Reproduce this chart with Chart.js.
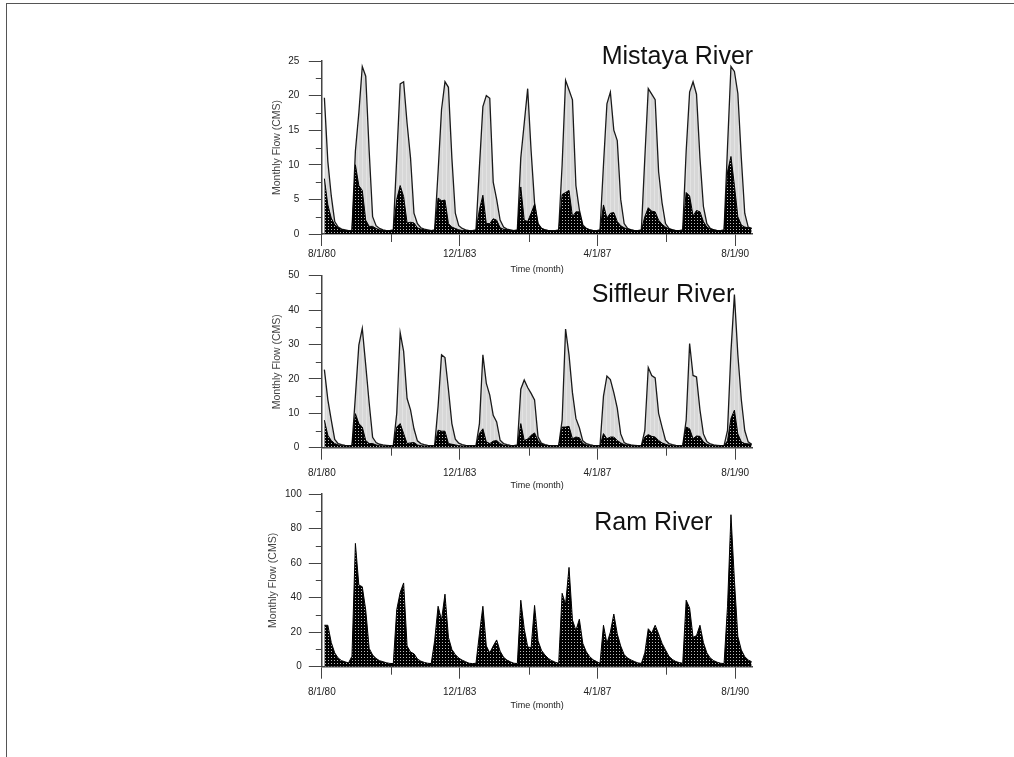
<!DOCTYPE html>
<html>
<head>
<meta charset="utf-8">
<script src="https://cdn.jsdelivr.net/npm/chart.js@4.4.1/dist/chart.umd.min.js"></script>
<style>
  html, body { margin: 0; padding: 0; background: #fff; }
  body { width: 1014px; height: 757px; position: relative; overflow: hidden; }
  #frame { position: absolute; left: 6px; top: 3px; width: 1100px; height: 800px;
           border-top: 1px solid #555; border-left: 1px solid #555; }
  canvas { position: absolute; left: 0; }
</style>
</head>
<body>
<div id="frame"></div>
<canvas id="c1" width="1014" height="282" style="top:0px"></canvas>
<canvas id="c2" width="1014" height="250" style="top:250px"></canvas>
<canvas id="c3" width="1014" height="250" style="top:470px"></canvas>
<script>
// ---------- categories: months, index 0 = August 1980 ----------
const months = [];
for (let i = 0; i < 125; i++) {
  const m = (7 + i) % 12, y = 1980 + Math.floor((7 + i) / 12);
  months.push((m + 1) + '/' + y);
}
const MONTH_POS = 0.75;              // position of a monthly value inside its month

// ---------- x tick labels ----------
const xTickValues = [0, 40, 80, 120];
const xTickLabels = ['8/1/80', '12/1/83', '4/1/87', '8/1/90'];
const xMinorTicks = [20, 60, 100];

// ---------- y ticks ----------
const mistayaYTicks = [0, 5, 10, 15, 20, 25];
const mistayaYMinor = [2.5, 7.5, 12.5, 17.5, 22.5];
const siffleurYTicks = [0, 10, 20, 30, 40, 50];
const siffleurYMinor = [5, 15, 25, 35, 45];
const ramYTicks = [0, 20, 40, 60, 80, 100];
const ramYMinor = [10, 30, 50, 70, 90];

// ---------- series (monthly flow, CMS) ----------
const mistayaTotal = [
  19.7, 10.5, 5.5, 1.8, 1.0, 0.7, 0.6, 0.5, 0.5,
  12, 17.5, 24.2, 22.8, 12, 2.5, 1.2, 0.8, 0.6, 0.5, 0.5, 0.6,
  11, 21.7, 22.0, 16, 11, 3, 1.5, 0.9, 0.7, 0.6, 0.5, 0.6,
  9, 18, 22, 21.2, 11, 3, 1.2, 0.8, 0.6, 0.5, 0.5, 0.6,
  9.7, 18.4, 20, 19.6, 7.5, 5, 2, 1, 0.7, 0.6, 0.5, 0.6,
  11, 16, 21, 12, 4.5, 1.5, 0.8, 0.6, 0.5, 0.5, 0.5, 0.6,
  10, 22.2, 20.8, 19.4, 7, 3.5, 1.3, 0.8, 0.6, 0.5, 0.5, 0.6,
  10, 18.8, 20.5, 15, 13.5, 5, 1.5, 0.8, 0.6, 0.5, 0.5, 0.6,
  11, 21, 20.2, 19.4, 9, 4.5, 1.5, 0.8, 0.6, 0.5, 0.5, 0.6,
  12, 20.5, 22, 20.2, 11, 4, 1.5, 0.8, 0.6, 0.5, 0.5, 0.6,
  12.6, 24.2, 23.5, 20.3, 11, 3, 1, 0.8
];
const mistayaBase = [
  8.0, 4.2, 2.3, 1.3, 0.9, 0.6, 0.5, 0.45, 0.45,
  10, 7, 6.3, 2, 1.1, 1.1, 0.8, 0.6, 0.5, 0.45, 0.45, 0.5,
  5, 7, 5.4, 1.6, 1.7, 1.6, 0.9, 0.7, 0.6, 0.5, 0.45, 0.5,
  5.2, 4.8, 4.9, 1.5, 1.0, 0.8, 0.6, 0.5, 0.5, 0.45, 0.45, 0.5,
  3.5, 5.6, 1.5, 1.5, 2.2, 2.0, 0.9, 0.7, 0.6, 0.5, 0.45, 0.5,
  6.8, 2.0, 1.8, 3.0, 4.3, 1.5, 0.8, 0.6, 0.5, 0.45, 0.45, 0.5,
  5.7, 6.0, 6.3, 2.5, 3.2, 3.2, 1.2, 0.8, 0.6, 0.5, 0.45, 0.5,
  4.2, 2.3, 3.0, 3.1, 1.8, 1.2, 0.9, 0.7, 0.6, 0.5, 0.45, 0.5,
  2.5, 3.8, 3.3, 3.2, 2.0, 1.4, 1.0, 0.7, 0.6, 0.5, 0.45, 0.5,
  6.0, 5.5, 2.6, 3.4, 3.2, 1.8, 1.0, 0.7, 0.6, 0.5, 0.45, 0.5,
  9, 11.2, 7, 2.5, 1.3, 1.0, 0.9, 0.8
];
const siffleurTotal = [
  22.7, 14, 8, 2.4, 1.2, 0.9, 0.7, 0.6, 0.6,
  15, 29.8, 34.7, 24, 13, 3, 1.5, 1.0, 0.8, 0.7, 0.6, 0.6,
  10, 33.4, 28, 14.3, 11, 5.5, 2.0, 1.2, 0.9, 0.7, 0.6, 0.6,
  12, 27, 26.2, 17, 7, 2.5, 1.3, 0.9, 0.7, 0.6, 0.6, 0.6,
  7, 27, 18.7, 15.3, 9.4, 7.5, 2.2, 1.2, 0.9, 0.7, 0.6, 0.8,
  17, 19.7, 17.5, 15.8, 13.9, 3.2, 1.3, 0.9, 0.7, 0.6, 0.6, 0.6,
  8, 34.5, 27, 16, 8.5, 5.8, 2, 1.2, 0.9, 0.7, 0.6, 0.6,
  15, 20.8, 19.8, 16, 11.5, 4, 1.5, 1.0, 0.8, 0.7, 0.6, 0.6,
  5, 23.3, 21, 20.3, 10, 6, 2.2, 1.2, 0.9, 0.7, 0.6, 0.6,
  8, 30.3, 21, 20.6, 11, 4, 1.8, 1.1, 0.8, 0.7, 0.6, 0.6,
  5, 28, 44.5, 27, 14, 5, 1.7, 1.0
];
const siffleurBase = [
  8.0, 3.6, 2.1, 1.2, 0.8, 0.6, 0.5, 0.5, 0.5,
  9.9, 7, 6, 2.1, 1.2, 1.2, 0.8, 0.6, 0.5, 0.5, 0.5, 0.5,
  6, 7, 4.1, 1.2, 1.4, 1.5, 0.8, 0.6, 0.5, 0.5, 0.5, 0.5,
  5.1, 4.8, 4.8, 1.2, 1.0, 0.8, 0.6, 0.5, 0.5, 0.5, 0.5, 0.5,
  4.1, 5.5, 1.7, 1.2, 1.9, 2.1, 1.2, 0.7, 0.6, 0.5, 0.5, 0.6,
  7, 2.1, 2.5, 3.6, 4.3, 2.1, 1.0, 0.7, 0.6, 0.5, 0.5, 0.5,
  6, 6, 6.2, 2.6, 3.1, 2.9, 1.2, 0.8, 0.6, 0.5, 0.5, 0.5,
  4.1, 2.6, 3.1, 3.1, 2.1, 1.4, 0.9, 0.7, 0.6, 0.5, 0.5, 0.5,
  3.1, 3.8, 3.3, 3.1, 2.1, 1.4, 1.0, 0.7, 0.6, 0.5, 0.5, 0.5,
  6.0, 5.5, 2.6, 3.4, 3.3, 1.7, 1.0, 0.7, 0.6, 0.5, 0.5, 0.5,
  2, 8.5, 10.9, 4, 1.7, 1.2, 1.1, 1.0
];
const ramTotal = [
  24, 24, 14, 8, 5, 3.5, 2.8, 2.2, 6,
  71.4, 47.3, 46.3, 32.8, 10.6, 6.8, 4.8, 3.5, 2.9, 2.3, 1.9, 1.8,
  33, 43, 48.5, 12, 8.5, 7.5, 4.5, 3.2, 2.5, 2.0, 1.8, 15,
  35, 27, 42, 17, 10, 7, 5, 3.8, 2.9, 2.0, 1.8, 2.0,
  19, 35, 12, 8, 12, 15.5, 9, 5.5, 3.8, 2.8, 2.0, 1.8,
  38.5, 22, 11.5, 11, 35.5, 15, 9.5, 6.8, 4.8, 3.5, 2.6, 2.0,
  42.5, 36, 57.5, 27, 21, 27.5, 13.5, 8.7, 5.8, 4, 3, 2,
  24, 13.5, 20, 30.5, 19, 12, 7, 5, 3.9, 3, 2.2, 1.9,
  8, 22, 19.5, 24, 19, 13.5, 9.7, 6, 4.2, 3, 2.4, 2.0,
  38.5, 34, 17, 18, 24, 14, 8, 5, 3.5, 2.6, 2.0, 1.8,
  35, 88, 50, 17.5, 9.7, 5.8, 3.9, 2.9
];

// ---------- fills ----------
function makePattern(w, h, bg, dots) {
  const c = document.createElement('canvas');
  c.width = w; c.height = h;
  const g = c.getContext('2d');
  g.fillStyle = bg; g.fillRect(0, 0, w, h);
  dots.forEach(d => { g.fillStyle = d[2]; g.fillRect(d[0], d[1], d[3] || 1, d[4] || 1); });
  return g.createPattern(c, 'repeat');
}
const darkFill = makePattern(3, 3, '#000000', [[1, 1, '#bdbdbd']]);
const greyFill = makePattern(4, 1, '#d7d7d7', [[2, 0, '#e3e3e3']]);

const FONT = "'Liberation Sans', Arial, Helvetica, sans-serif";

function toPoints(arr) {
  return arr.map((v, i) => ({ x: i + MONTH_POS, y: v }));
}

// ---------- plugins ----------
const riverTitle = {
  id: 'riverTitle',
  afterDraw(chart, args, o) {
    const ctx = chart.ctx;
    ctx.save();
    ctx.font = o.size + 'px ' + FONT;
    ctx.fillStyle = '#111';
    ctx.textAlign = 'left';
    ctx.textBaseline = 'alphabetic';
    ctx.fillText(o.text, o.x, o.y);
    ctx.restore();
  }
};
const minorTicks = {
  id: 'minorTicks',
  afterDraw(chart, args, o) {
    const ctx = chart.ctx, xs = chart.scales.x, ys = chart.scales.y;
    ctx.save();
    ctx.strokeStyle = '#444';
    ctx.lineWidth = 1;
    (o.x || []).forEach(v => {
      const px = Math.round(xs.getPixelForValue(v)) + 0.5;
      ctx.beginPath(); ctx.moveTo(px, xs.top); ctx.lineTo(px, xs.top + o.xLen); ctx.stroke();
    });
    (o.y || []).forEach(v => {
      const py = Math.round(ys.getPixelForValue(v)) + 0.5;
      ctx.beginPath(); ctx.moveTo(ys.right, py); ctx.lineTo(ys.right - o.yLen, py); ctx.stroke();
    });
    ctx.restore();
  }
};

function makeChart(id, o) {
  const datasets = [];
  if (o.base) datasets.push({
    data: toPoints(o.base), borderColor: '#000', borderWidth: 1,
    backgroundColor: darkFill, fill: 'origin', pointRadius: 0, tension: 0
  });
  datasets.push({
    data: toPoints(o.total), borderColor: o.base ? '#1a1a1a' : '#000', borderWidth: o.base ? 1.3 : 1,
    backgroundColor: o.base ? greyFill : darkFill, fill: 'origin', pointRadius: 0, tension: 0
  });
  return new Chart(document.getElementById(id), {
    type: 'line',
    data: { datasets },
    options: {
      responsive: false,
      animation: false,
      events: [],
      layout: { padding: { left: o.padL, right: 261.5, top: o.padT, bottom: o.padB } },
      plugins: {
        legend: { display: false },
        tooltip: { enabled: false },
        riverTitle: { text: o.title, x: o.titleX, y: o.titleY, size: 25 },
        minorTicks: { x: xMinorTicks, y: o.yMinor, xLen: 8, yLen: 6 }
      },
      scales: {
        x: {
          type: 'linear', min: 0, max: 125,
          afterBuildTicks: s => { s.ticks = xTickValues.map(v => ({ value: v })); },
          afterFit: s => { s.height = o.xH; },
          grid: { drawOnChartArea: false, drawTicks: true, tickLength: 12, tickColor: '#444', tickWidth: 1 },
          border: { color: '#444', width: 1.5 },
          ticks: {
            padding: o.xPad, color: '#222', maxRotation: 0, autoSkip: false,
            font: { family: FONT, size: 10 },
            callback: (v, i) => xTickLabels[i]
          },
          title: { display: true, text: 'Time (month)', color: '#222', padding: 0,
                   font: { family: FONT, size: 9 } }
        },
        y: {
          min: 0, max: o.yMax,
          afterBuildTicks: s => { s.ticks = o.yTicks.map(v => ({ value: v })); },
          afterFit: s => { s.width = o.yW; },
          grid: { drawOnChartArea: false, drawTicks: true, tickLength: 13, tickColor: '#444', tickWidth: 1 },
          border: { color: '#444', width: 1.5 },
          ticks: {
            padding: o.yPad, color: '#222',
            font: { family: FONT, size: 10 },
            callback: v => String(v)
          },
          title: { display: true, text: 'Monthly Flow (CMS)', color: '#444', padding: 0,
                   font: { family: FONT, size: 10.5 } }
        }
      }
    },
    plugins: [riverTitle, minorTicks]
  });
}

makeChart('c1', {
  total: mistayaTotal, base: mistayaBase, yMax: 25, yTicks: mistayaYTicks, yMinor: mistayaYMinor,
  padL: 270.4, yW: 51.4, padT: 61, padB: 6.6, xH: 41.4, xPad: 2, yPad: 9.5,
  title: 'Mistaya River', titleX: 601.7, titleY: 63.5
});
makeChart('c2', {
  total: siffleurTotal, base: siffleurBase, yMax: 50, yTicks: siffleurYTicks, yMinor: siffleurYMinor,
  padL: 270.4, yW: 51.4, padT: 25.7, padB: 8.6, xH: 43.7, xPad: 7.6, yPad: 9.5,
  title: 'Siffleur River', titleX: 591.7, titleY: 52.3
});
makeChart('c3', {
  total: ramTotal, base: null, yMax: 100, yTicks: ramYTicks, yMinor: ramYMinor,
  padL: 267, yW: 54.8, padT: 24, padB: 8.9, xH: 44.4, xPad: 7.6, yPad: 7.1,
  title: 'Ram River', titleX: 594.3, titleY: 59.5
});
</script>
</body>
</html>
